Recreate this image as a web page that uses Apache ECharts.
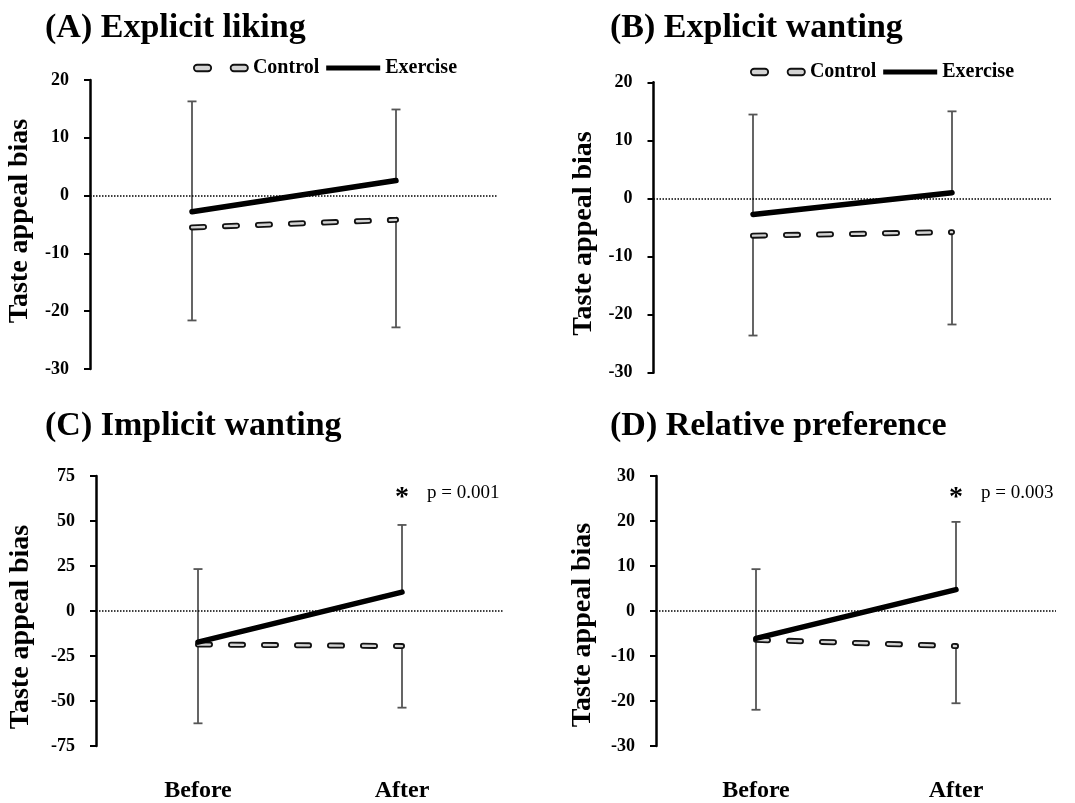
<!DOCTYPE html>
<html>
<head>
<meta charset="utf-8">
<script src="https://cdn.jsdelivr.net/npm/echarts@6/dist/echarts.min.js"></script>
<style>
  html, body { margin: 0; padding: 0; background: #fff; }
  #chart { width: 1075px; height: 803px; }
</style>
</head>
<body>
<div id="chart"></div>
<script>
// ---------------- data ----------------
const categories = ['Before', 'After'];
const panelTitles = ['(A) Explicit liking', '(B) Explicit wanting', '(C) Implicit wanting', '(D) Relative preference'];
const yAxisTitle = 'Taste appeal bias';
const seriesNames = ['Control', 'Exercise'];

// means
const controlA = [-5.5, -4.2];
const exerciseA = [-2.8, 2.6];
const controlB = [-6.4, -5.8];
const exerciseB = [-2.75, 1.0];
const controlC = [-18.6, -19.5];
const exerciseC = [-17.3, 10.5];
const controlD = [-6.4, -7.8];
const exerciseD = [-6.1, 4.75];

// error bar sizes (control drawn downward, exercise upward)
const controlErrA = [16.1, 18.6];
const exerciseErrA = [19.1, 12.3];
const controlErrB = [17.2, 15.9];
const exerciseErrB = [17.2, 14.0];
const controlErrC = [43.8, 34.2];
const exerciseErrC = [40.6, 37.3];
const controlErrD = [15.55, 12.7];
const exerciseErrD = [15.4, 15.05];

// y-axis ticks: [min, max, step]
const yTicksA = [-30, 20, 10];
const yTicksB = [-30, 20, 10];
const yTicksC = [-75, 75, 25];
const yTicksD = [-30, 30, 10];

// significance annotations
const pLabels = [null, null, 'p = 0.001', 'p = 0.003'];
const starLabel = '*';

// ---------------- layout ----------------
const FONT = "'Liberation Serif', 'Times New Roman', serif";
const layout = [
  { grid: { left: 90, top: 80, width: 408, height: 289 }, title: { left: 45, top: 11 }, legend: { left: 193, top: 58 }, nameGap: 56, namePad: [0, 0, 0, 7], annotY: null, showX: false },
  { grid: { left: 653.5, top: 82.3, width: 398, height: 290.4 }, title: { left: 610, top: 11 }, legend: { left: 750, top: 62 }, nameGap: 56, namePad: [0, 12, 0, 0], annotY: null, showX: false },
  { grid: { left: 96, top: 476, width: 408, height: 274.7 }, title: { left: 45, top: 409 }, legend: null, nameGap: 61, namePad: [0, 32, 0, 0], annotY: 65.7, showX: true },
  { grid: { left: 656, top: 476, width: 400, height: 273.3 }, title: { left: 610, top: 409 }, legend: null, nameGap: 59, namePad: [0, 28, 0, 0], annotY: 26.2, showX: true }
];

const panels = [
  { title: panelTitles[0], control: controlA, exercise: exerciseA, cErr: controlErrA, eErr: exerciseErrA, ticks: yTicksA, p: pLabels[0] },
  { title: panelTitles[1], control: controlB, exercise: exerciseB, cErr: controlErrB, eErr: exerciseErrB, ticks: yTicksB, p: pLabels[1] },
  { title: panelTitles[2], control: controlC, exercise: exerciseC, cErr: controlErrC, eErr: exerciseErrC, ticks: yTicksC, p: pLabels[2] },
  { title: panelTitles[3], control: controlD, exercise: exerciseD, cErr: controlErrD, eErr: exerciseErrD, ticks: yTicksD, p: pLabels[3] }
];

const DASH = [12, 21];
const controlIcon = 'path://M3,0H13A3,3,0,0,1,13,6H3A3,3,0,0,1,3,0Z M37,0H47A3,3,0,0,1,47,6H37A3,3,0,0,1,37,0Z';
const exerciseIcon = 'path://M0,0H58V5.5H0Z';

function errorRender(params, api) {
  const x = api.value(0);
  const p0 = api.coord([x, api.value(1)]);
  const p1 = api.coord([x, api.value(2)]);
  const cap = 4.5;
  const style = { stroke: '#555', lineWidth: 1.8 };
  return {
    type: 'group',
    children: [
      { type: 'line', shape: { x1: p0[0], y1: p0[1], x2: p1[0], y2: p1[1] }, style: style },
      { type: 'line', shape: { x1: p1[0] - cap, y1: p1[1], x2: p1[0] + cap, y2: p1[1] }, style: style }
    ]
  };
}

const option = {
  backgroundColor: '#fff',
  animation: false,
  title: [], grid: [], xAxis: [], yAxis: [], series: [], legend: []
};

panels.forEach((pn, i) => {
  const L = layout[i];
  option.title.push({
    text: pn.title, left: L.title.left, top: L.title.top, padding: 0,
    textStyle: { fontFamily: FONT, fontWeight: 'bold', fontSize: 34, color: '#000' }
  });
  option.grid.push(Object.assign({ containLabel: false }, L.grid));
  option.xAxis.push({
    type: 'category', gridIndex: i, data: categories, boundaryGap: true,
    axisLine: { show: false }, axisTick: { show: false }, splitLine: { show: false },
    axisLabel: { show: L.showX, margin: 33, fontFamily: FONT, fontWeight: 'bold', fontSize: 24, color: '#000' }
  });
  option.yAxis.push({
    type: 'value', gridIndex: i, min: pn.ticks[0], max: pn.ticks[1], interval: pn.ticks[2],
    name: yAxisTitle, nameLocation: 'middle', nameGap: L.nameGap,
    nameTextStyle: { fontFamily: FONT, fontWeight: 'bold', fontSize: 28, color: '#000', padding: L.namePad },
    axisLine: { show: true, lineStyle: { color: '#000', width: 2.5 } },
    axisTick: { show: true, inside: false, length: 6, lineStyle: { color: '#000', width: 2 } },
    splitLine: { show: false },
    axisLabel: { margin: 21, fontFamily: FONT, fontWeight: 'bold', fontSize: 18, color: '#000' }
  });

  // error bars
  option.series.push({
    type: 'custom', name: 'errC' + i, xAxisIndex: i, yAxisIndex: i, z: 1,
    renderItem: errorRender, encode: { x: 0, y: [1, 2] },
    data: categories.map((c, k) => [k, pn.control[k], pn.control[k] - pn.cErr[k]])
  });
  option.series.push({
    type: 'custom', name: 'errE' + i, xAxisIndex: i, yAxisIndex: i, z: 1,
    renderItem: errorRender, encode: { x: 0, y: [1, 2] },
    data: categories.map((c, k) => [k, pn.exercise[k], pn.exercise[k] + pn.eErr[k]])
  });

  // control dashed outlined line (outer + inner)
  option.series.push({
    type: 'line', name: seriesNames[0], xAxisIndex: i, yAxisIndex: i, z: 3,
    data: pn.control, symbol: 'none', silent: true,
    itemStyle: { color: '#d9d9d9', borderColor: '#111', borderWidth: 1.8 },
    lineStyle: { color: '#111', width: 6, type: DASH, cap: 'round' },
    markLine: {
      silent: true, symbol: ['none', 'none'], label: { show: false },
      lineStyle: { color: '#000', type: 'dotted', width: 1.5 },
      data: [{ yAxis: 0 }]
    }
  });
  option.series.push({
    type: 'line', name: 'ControlInner' + i, xAxisIndex: i, yAxisIndex: i, z: 4,
    data: pn.control, symbol: 'none', silent: true,
    lineStyle: { color: '#d4d4d4', width: 2.4, type: DASH, cap: 'round' }
  });

  const exSeries = {
    type: 'line', name: seriesNames[1], xAxisIndex: i, yAxisIndex: i, z: 5,
    data: pn.exercise, symbol: 'none', silent: true,
    itemStyle: { color: '#000' },
    lineStyle: { color: '#000', width: 5.5, cap: 'round' }
  };
  if (pn.p) {
    exSeries.markPoint = {
      silent: true, symbol: 'circle', symbolSize: 1, itemStyle: { color: 'rgba(0,0,0,0)' },
      data: [
        { coord: [1, L.annotY], label: { show: true, formatter: starLabel, position: 'inside', offset: [0, 5], fontFamily: FONT, fontWeight: 'bold', fontSize: 28, color: '#000' } },
        { coord: [1, L.annotY], label: { show: true, formatter: pn.p, position: 'inside', align: 'left', offset: [25, 0], fontFamily: FONT, fontSize: 19, color: '#000' } }
      ]
    };
  }
  option.series.push(exSeries);

  if (L.legend) {
    option.legend.push({
      left: L.legend.left, top: L.legend.top, padding: 0, orient: 'horizontal',
      itemWidth: 54, itemHeight: 12, itemGap: 7, selectedMode: false,
      textStyle: { fontFamily: FONT, fontWeight: 'bold', fontSize: 20, color: '#000' },
      data: [
        { name: seriesNames[0], icon: controlIcon, itemStyle: { color: '#d4d4d4', borderColor: '#111', borderWidth: 1.8 } },
        { name: seriesNames[1], icon: exerciseIcon, itemStyle: { color: '#000', borderWidth: 0 } }
      ]
    });
  }
});

const chart = echarts.init(document.getElementById('chart'), null, { renderer: 'canvas' });
chart.setOption(option);
</script>
</body>
</html>
